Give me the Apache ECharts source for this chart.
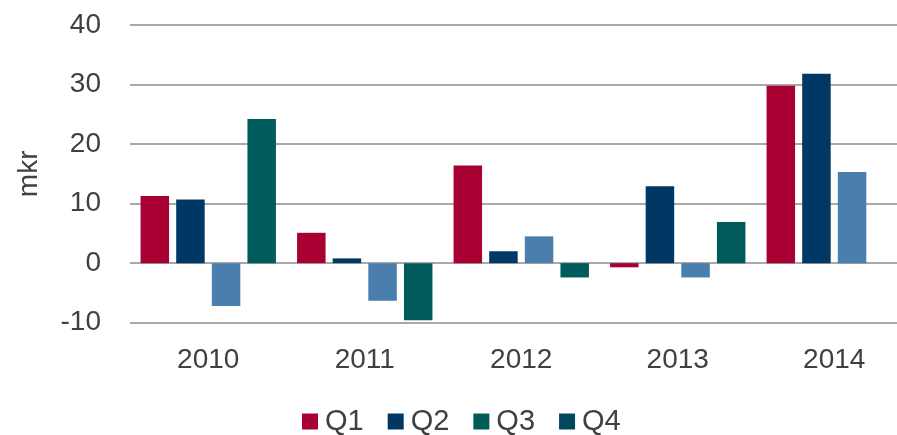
<!DOCTYPE html>
<html>
<head>
<meta charset="utf-8">
<script src="https://cdn.jsdelivr.net/npm/echarts@6/dist/echarts.min.js"></script>
<style>
  html, body { margin: 0; padding: 0; background: #fff; overflow: hidden; }
  /* the plot runs a little past the right edge of the page */
  #chart { width: 915px; height: 435px; }
</style>
</head>
<body>
<div id="chart"></div>
<script>
// Quarterly result per year, in mkr
const years = ['2010', '2011', '2012', '2013', '2014'];
const q1 = [11.3, 5.1, 16.4, -0.7, 29.8];
const q2 = [10.7, 0.8, 2.0, 12.9, 31.8];
const q3 = [-7.2, -6.3, 4.5, -2.4, 15.3];
const q4 = [24.2, -9.6, -2.4, 6.9, null];
const quarterNames = ['Q1', 'Q2', 'Q3', 'Q4'];
const yTicks = { min: -10, max: 40, step: 10 };

const barColors = ['#A90034', '#003865', '#4A7EAC', '#005C5A'];
const legendColors = ['#A90034', '#003865', '#005C5A', '#00475F'];
const textColor = '#404040';
const font = 'Liberation Sans, Arial, sans-serif';

const seriesValues = [q1, q2, q3, q4];

const chart = echarts.init(document.getElementById('chart'), null, { renderer: 'canvas' });

chart.setOption({
  animation: false,
  backgroundColor: '#ffffff',
  textStyle: { fontFamily: font },
  grid: { left: 130, top: 25, right: 2.5, bottom: 112.3, containLabel: false },
  legend: {
    top: 402,
    left: 297,
    itemWidth: 16,
    itemHeight: 16,
    itemGap: 24,
    icon: 'rect',
    textStyle: { color: textColor, fontSize: 29, fontFamily: font, padding: [0, 0, 0, 2] },
    data: quarterNames.map((n, i) => ({ name: n, itemStyle: { color: legendColors[i] } }))
  },
  xAxis: {
    type: 'category',
    data: years,
    axisLine: { show: false, onZero: false },
    axisTick: { show: false },
    axisLabel: { color: textColor, fontSize: 28, fontFamily: font, margin: 24 },
    splitLine: { show: false }
  },
  yAxis: {
    type: 'value',
    min: yTicks.min,
    max: yTicks.max,
    interval: yTicks.step,
    name: 'mkr',
    nameLocation: 'middle',
    nameGap: 87,
    nameRotate: 90,
    nameTextStyle: { color: textColor, fontSize: 28, fontFamily: font },
    axisLine: { show: false },
    axisTick: { show: false },
    axisLabel: { color: textColor, fontSize: 28, fontFamily: font, margin: 29 },
    splitLine: { show: true, lineStyle: { color: '#8c8c8c', width: 1.5 } }
  },
  series: quarterNames.map((n, i) => ({
    name: n,
    type: 'bar',
    data: seriesValues[i],
    barWidth: 28.5,
    barGap: '25%',
    itemStyle: { color: barColors[i] }
  }))
});
</script>
</body>
</html>
